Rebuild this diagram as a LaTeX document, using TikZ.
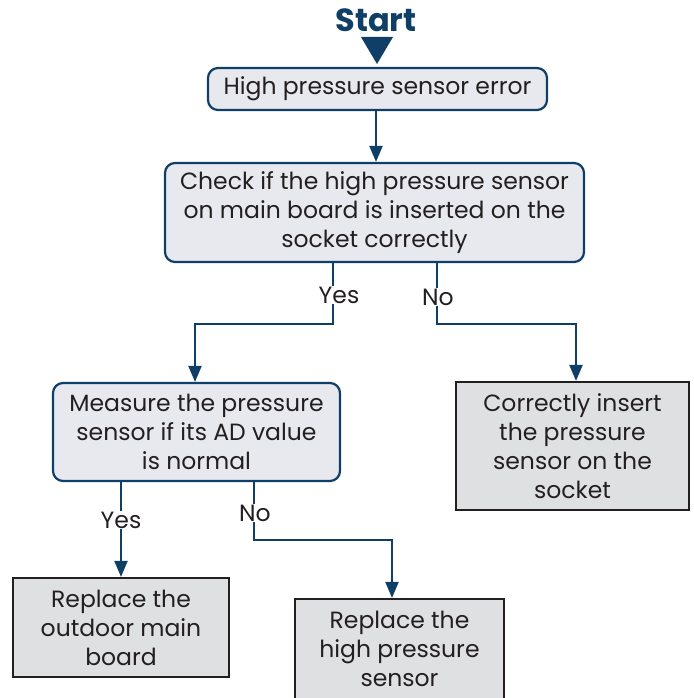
\documentclass[tikz,border=0pt]{standalone}
\usepackage{fontspec}
\setmainfont{Poppins}
\usetikzlibrary{arrows.meta,calc}
\definecolor{navy}{HTML}{0F3F66}
\definecolor{boxblue}{HTML}{E8E9EF}
\definecolor{boxgray}{HTML}{DFE0E2}
\definecolor{txt}{HTML}{231F20}
\begin{document}
\begin{tikzpicture}[x=1pt,y=-1pt,
  txtfont/.style={font=\fontsize{23.5}{29}\selectfont, text=txt},
  rbox/.style={draw=navy, line width=2.2pt, fill=boxblue, rounded corners=10pt, align=center, inner sep=0pt, txtfont},
  gbox/.style={draw=txt, line width=2.2pt, fill=boxgray, align=center, inner sep=0pt, txtfont},
  arr/.style={draw=navy, line width=2.2pt, -{Triangle[width=13pt,length=16pt]}},
  lab/.style={fill=white, inner sep=1pt, txtfont}
]
\useasboundingbox (0,0) rectangle (693,698);
\clip (0,0) rectangle (693,698);

\node[font=\fontsize{32}{34}\selectfont\bfseries, text=navy] (start) at (376,20) {Start};
\fill[navy] (361,37) -- (393,37) -- (377,64) -- cycle;

\node[rbox, minimum width=339pt, minimum height=42pt] (b1) at (377.5,89) {High pressure sensor error};
\node[rbox, minimum width=419pt, minimum height=99pt] (b2) at (374.5,212.5) {Check if the high pressure sensor\\on main board is inserted on the\\socket correctly};
\node[rbox, minimum width=287pt, minimum height=98pt] (b3) at (196.5,432) {Measure the pressure\\sensor if its AD value\\is normal};
\node[gbox, minimum width=233pt, minimum height=128pt] (b4) at (572.5,446) {Correctly insert\\the pressure\\sensor on the\\socket};
\node[gbox, minimum width=216pt, minimum height=99pt] (b5) at (121,627.5) {Replace the\\outdoor main\\board};
\node[gbox, minimum width=209pt, minimum height=100pt] (b6) at (399.5,649) {Replace the\\high pressure\\sensor};

\draw[arr] ([xshift=-1.5pt]b1.south) -- ([xshift=-1.5pt]b1.south |- b2.north);
\draw[arr] ([xshift=-41.5pt]b2.south) -- ++(0,61) -| ([xshift=-1.5pt]b3.north);
\draw[arr] ([xshift=62.5pt]b2.south) -- ++(0,61) -| ([xshift=3.5pt]b4.north);
\draw[arr] ([xshift=-75.5pt]b3.south) -- (b5.north);
\draw[arr] ([xshift=57.5pt]b3.south) -- ++(0,58) -| ([xshift=-7.5pt]b6.north);

\node[lab] (y1) at (339,295) {Yes};
\node[lab] (n1) at (438,297) {No};
\node[lab] (y2) at (121,520) {Yes};
\node[lab] (n2) at (255,513) {No};
\end{tikzpicture}
\end{document}
